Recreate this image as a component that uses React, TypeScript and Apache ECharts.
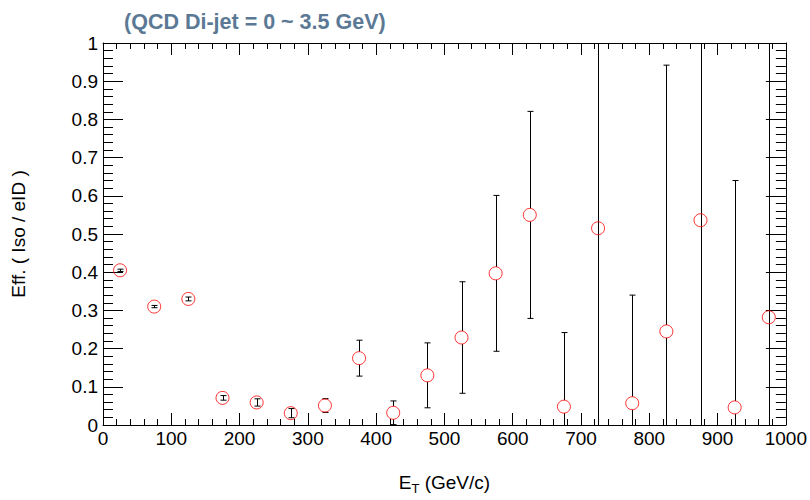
import { useEffect, useRef } from "react";
import * as echarts from "echarts";

// Bin centres along E_T (GeV/c), 50 GeV wide bins
const binCenters = [25, 75, 125, 175, 225, 275, 325, 375, 425, 475, 525, 575, 625, 675, 725, 775, 825, 875, 925, 975];
// Isolation efficiency relative to eID
const efficiency = [0.405, 0.31, 0.33, 0.071, 0.059, 0.031, 0.051, 0.175, 0.032, 0.13, 0.229, 0.397, 0.55, 0.048, 0.515, 0.057, 0.245, 0.536, 0.046, 0.282];
// Symmetric statistical errors
const efficiencyErr = [0.003, 0.003, 0.005, 0.006, 0.0095, 0.012, 0.018, 0.047, 0.031, 0.085, 0.146, 0.204, 0.271, 0.194, 0.72, 0.283, 0.697, 0.71, 0.594, 0.76];

const titleText = "(QCD Di-jet = 0 ~ 3.5 GeV)";
const yTitle = "Eff. ( Iso / eID )";

const FONT = "'Liberation Sans', Arial, Helvetica, sans-serif";
const MARKER_R = 6.5;

export default function App() {
  const ref = useRef<HTMLDivElement>(null);

  useEffect(() => {
    if (!ref.current) return;
    const chart = echarts.init(ref.current, undefined, { renderer: "svg" });

    const points = binCenters.map((x, i) => [x, efficiency[i]]);
    const errData = binCenters.map((x, i) => [x, efficiency[i], efficiencyErr[i]]);

    const tickCommon = (major: number, minor: number, showLabel: boolean, isY: boolean) => ({
      axisLine: { show: true, onZero: false, lineStyle: { color: "#000", width: 1 } },
      axisTick: { show: true, inside: true, length: major, lineStyle: { color: "#000", width: 1 } },
      minorTick: { show: true, splitNumber: 5, length: minor, lineStyle: { color: "#000", width: 1 } },
      splitLine: { show: false },
      minorSplitLine: { show: false },
      axisLabel: {
        show: showLabel,
        color: "#000",
        fontSize: 19,
        fontFamily: FONT,
        margin: isY ? 5 : 4,
        formatter: isY ? (v: number) => String(Math.round(v * 10) / 10) : (v: number) => String(Math.round(v)),
      },
    });

    const option: any = {
      animation: false,
      backgroundColor: "#fff",
      title: {
        text: titleText,
        left: 119,
        top: 6,
        textStyle: { fontSize: 21.5, fontWeight: "bold", color: "#5b7995", fontFamily: FONT },
      },
      grid: { left: 103, right: 24, top: 43, bottom: 69, containLabel: false },
      xAxis: [
        {
          type: "value",
          position: "bottom",
          min: 0,
          max: 1000,
          interval: 100,
          ...tickCommon(12, 6, true, false),
          name: "{a|E}{s|T}{a| (GeV/c)}",
          nameLocation: "middle",
          nameGap: 48,
          nameTextStyle: {
            rich: {
              a: { fontSize: 19, fontFamily: FONT, color: "#000", verticalAlign: "top", lineHeight: 24 },
              s: { fontSize: 13, fontFamily: FONT, color: "#000", verticalAlign: "top", lineHeight: 24, padding: [9, 0, 0, 0] },
            },
          },
        },
        {
          type: "value",
          position: "top",
          min: 0,
          max: 1000,
          interval: 100,
          ...tickCommon(12, 6, false, false),
        },
      ],
      yAxis: [
        {
          type: "value",
          position: "left",
          min: 0,
          max: 1,
          interval: 0.1,
          ...tickCommon(20, 10, true, true),
          name: yTitle,
          nameLocation: "middle",
          nameRotate: 90,
          nameGap: 75,
          nameTextStyle: { fontSize: 19, fontFamily: FONT, color: "#000" },
        },
        {
          type: "value",
          position: "right",
          min: 0,
          max: 1,
          interval: 0.1,
          ...tickCommon(20, 10, false, true),
        },
      ],
      series: [
        {
          type: "custom",
          xAxisIndex: 0,
          yAxisIndex: 0,
          silent: true,
          data: errData,
          z: 2,
          renderItem: (params: any, api: any) => {
            const x = api.value(0);
            const y = api.value(1);
            const e = api.value(2);
            const cs = params.coordSys;
            const top = cs.y;
            const bottom = cs.y + cs.height;
            const c = api.coord([x, y]);
            const hi = api.coord([x, y + e])[1];
            const lo = api.coord([x, y - e])[1];
            const px = Math.round(c[0]) + 0.5;
            const yHi = Math.max(hi, top);
            const yLo = Math.min(lo, bottom);
            const style = { stroke: "#000", lineWidth: 1 };
            const children: any[] = [];
            const line = (y1: number, y2: number) =>
              children.push({ type: "line", shape: { x1: px, y1, x2: px, y2 }, style });
            const clippedTop = hi < top;
            if (clippedTop || c[1] - hi <= MARKER_R) {
              line(yHi, yLo);
            } else {
              line(yHi, c[1] - MARKER_R);
              line(c[1] + MARKER_R, yLo);
            }
            const capW = 3;
            if (hi >= top) {
              children.push({ type: "line", shape: { x1: px - capW, y1: hi, x2: px + capW, y2: hi }, style });
            }
            if (lo <= bottom) {
              children.push({ type: "line", shape: { x1: px - capW, y1: lo, x2: px + capW, y2: lo }, style });
            }
            return { type: "group", children };
          },
        },
        {
          type: "scatter",
          xAxisIndex: 0,
          yAxisIndex: 0,
          silent: true,
          data: points,
          symbol: "circle",
          symbolSize: MARKER_R * 2,
          z: 3,
          itemStyle: { color: "rgba(0,0,0,0)", borderColor: "#ff0000", borderWidth: 1 },
        },
      ],
    };

    chart.setOption(option);
    return () => chart.dispose();
  }, []);

  return (
    <div
      ref={ref}
      style={{ position: "fixed", left: 0, top: 0, width: 810, height: 500, background: "#fff" }}
    />
  );
}
